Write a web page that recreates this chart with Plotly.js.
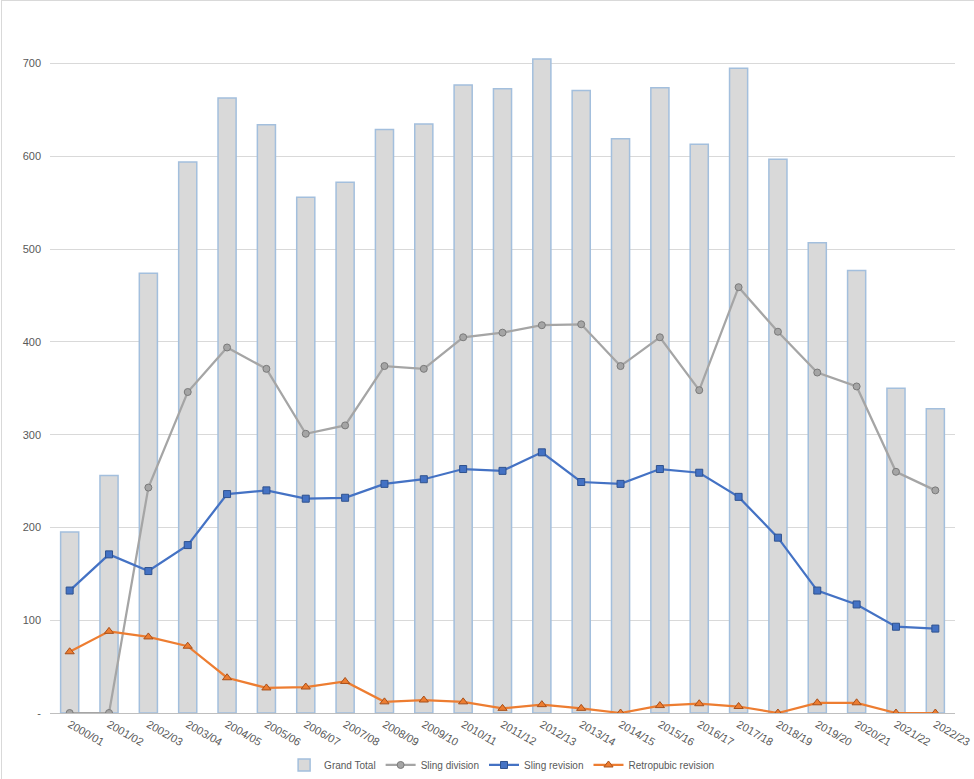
<!DOCTYPE html>
<html>
<head>
<meta charset="utf-8">
<script src="https://cdn.plot.ly/plotly-3.0.1.min.js"></script>
<style>
  body { margin: 0; background: #fff; }
  #frame { position: absolute; left: 1px; top: 0; width: 973px; height: 779px;
           box-sizing: border-box; border-left: 1px solid #d9d9d9; border-top: 1px solid #d9d9d9; }
  #chart { width: 974px; height: 779px; }
</style>
</head>
<body>
<div id="chart"></div>
<div id="frame"></div>
<script>
var years = ['2000/01','2001/02','2002/03','2003/04','2004/05','2005/06','2006/07','2007/08',
  '2008/09','2009/10','2010/11','2011/12','2012/13','2013/14','2014/15','2015/16','2016/17',
  '2017/18','2018/19','2019/20','2020/21','2021/22','2022/23'];

var grandTotal = [195, 256, 474, 594, 663, 634, 556, 572, 629, 635, 677, 673, 705, 671, 619, 674,
  613, 695, 597, 507, 477, 350, 328];
var slingDivision = [0, 0, 243, 346, 394, 371, 301, 310, 374, 371, 405, 410, 418, 419, 374, 405,
  348, 459, 411, 367, 352, 260, 240];
var slingRevision = [132, 171, 153, 181, 236, 240, 231, 232, 247, 252, 263, 261, 281, 249, 247, 263,
  259, 233, 189, 132, 117, 93, 91];
var retropubicRevision = [66, 88, 82, 72, 38, 27, 28, 34, 12, 14, 12, 5, 9, 5, 0, 8,
  10, 7, 0, 11, 11, 0, 0];

var yTicks = [0, 100, 200, 300, 400, 500, 600, 700];
var yTickText = ['-', '100', '200', '300', '400', '500', '600', '700'];

var data = [
  {
    type: 'bar',
    name: 'Grand Total',
    x: years,
    y: grandTotal,
    width: 0.46,
    marker: { color: '#d9d9d9', line: { color: '#a3bfdd', width: 1.5 } }
  },
  {
    type: 'scatter',
    mode: 'lines+markers',
    name: 'Sling division',
    x: years,
    y: slingDivision,
    line: { color: '#a5a5a5', width: 2.25 },
    marker: { symbol: 'circle', size: 7, color: '#a5a5a5', line: { color: '#7a7a7a', width: 1 } }
  },
  {
    type: 'scatter',
    mode: 'lines+markers',
    name: 'Sling revision',
    x: years,
    y: slingRevision,
    line: { color: '#4472c4', width: 2.25 },
    marker: { symbol: 'square', size: 7, color: '#4472c4', line: { color: '#2f528f', width: 1 } }
  },
  {
    type: 'scatter',
    mode: 'lines+markers',
    name: 'Retropubic revision',
    x: years,
    y: retropubicRevision,
    line: { color: '#ed7d31', width: 2.25 },
    marker: { symbol: 'triangle-up', size: 8, color: '#ed7d31', line: { color: '#a8501a', width: 1 } }
  }
];

var layout = {
  width: 974,
  height: 779,
  margin: { l: 50, r: 19, t: 10, b: 66 },
  paper_bgcolor: '#ffffff',
  plot_bgcolor: '#ffffff',
  font: { family: 'Liberation Sans, Arial, sans-serif', size: 11, color: '#595959' },
  showlegend: true,
  legend: {
    orientation: 'h',
    xref: 'container',
    yref: 'container',
    x: 0.515,
    xanchor: 'center',
    y: 0.018,
    yanchor: 'middle',
    font: { size: 10, color: '#595959' },
    itemwidth: 30,
    traceorder: 'normal'
  },
  xaxis: {
    type: 'category',
    automargin: false,
    range: [-0.5, 22.5],
    tickangle: 30,
    showgrid: false,
    showline: true,
    linecolor: '#bfbfbf',
    linewidth: 1,
    ticks: '',
    tickfont: { size: 11, color: '#595959' }
  },
  yaxis: {
    automargin: false,
    range: [0, 757.8],
    tickvals: yTicks,
    ticktext: yTickText,
    showgrid: true,
    gridcolor: '#d9d9d9',
    gridwidth: 1,
    zeroline: false,
    showline: false,
    ticks: '',
    ticklabelstandoff: 8,
    tickfont: { size: 11, color: '#595959' }
  }
};

Plotly.newPlot('chart', data, layout, { displayModeBar: false, staticPlot: true });
</script>
</body>
</html>
